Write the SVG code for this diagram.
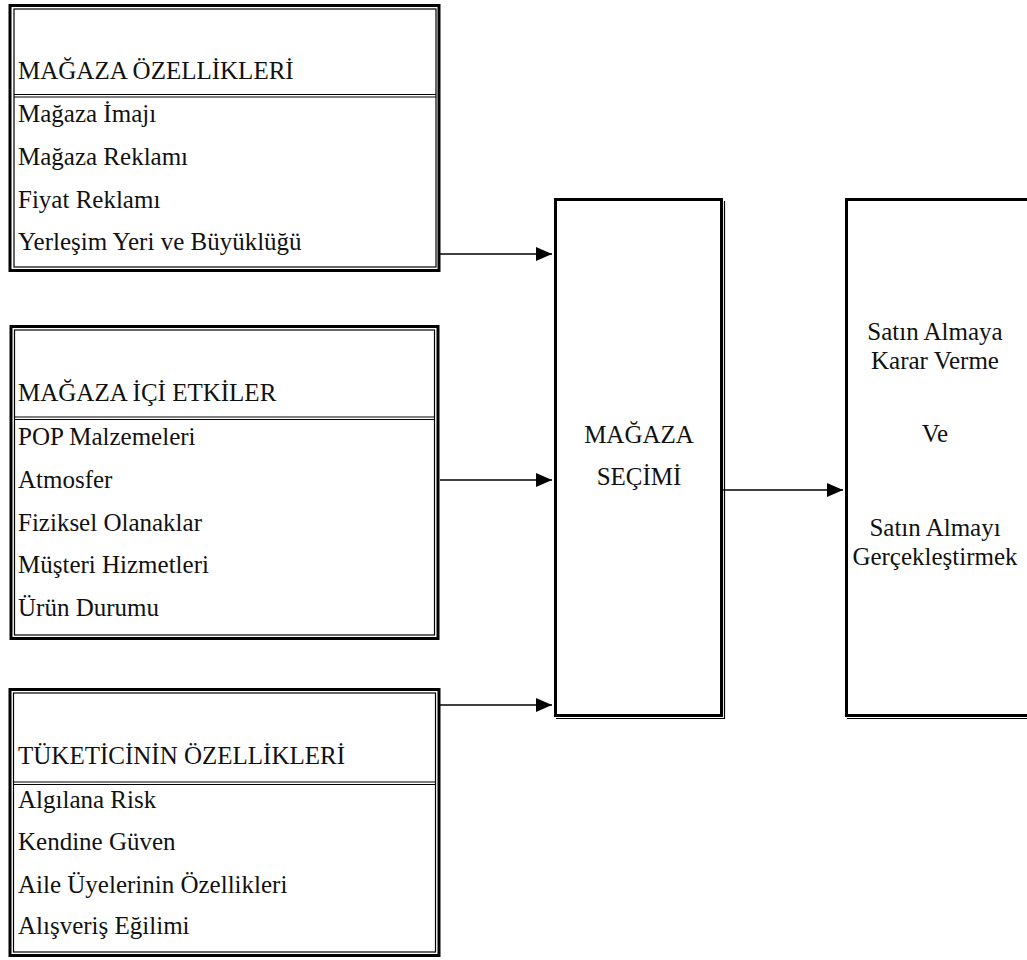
<svg xmlns="http://www.w3.org/2000/svg" width="1027" height="960" viewBox="0 0 1027 960">
<defs>
<style>
text{font-family:"Liberation Serif","Times New Roman",serif;font-size:25px;fill:#111;}
.mid{text-anchor:middle;}
.thick{fill:none;stroke:#000;stroke-width:3;}
.thin{fill:none;stroke:#000;stroke-width:1.2;}
.conn{fill:none;stroke:#000;stroke-width:1.5;}
</style>
<marker id="ah" viewBox="0 0 16 14" refX="16" refY="7" markerWidth="16" markerHeight="14" markerUnits="userSpaceOnUse" orient="auto">
<path d="M0,0 L16,7 L0,14 Z" fill="#000"/>
</marker>
</defs>
<rect width="1027" height="960" fill="#fff"/>

<g id="magaza-ozellikleri">
<rect class="thick" x="10" y="5.5" width="429" height="265"/>
<rect class="thin" x="14" y="9" width="422" height="258"/>
<line class="thin" x1="14" y1="94.5" x2="436" y2="94.5"/>
<line class="thin" x1="14" y1="97" x2="436" y2="97"/>
<text x="18" y="79">MAĞAZA ÖZELLİKLERİ</text>
<text x="18" y="122">Mağaza İmajı</text>
<text x="18" y="165">Mağaza Reklamı</text>
<text x="18" y="208">Fiyat Reklamı</text>
<text x="18" y="250">Yerleşim Yeri ve Büyüklüğü</text>
</g>

<g id="magaza-ici-etkiler">
<rect class="thick" x="11" y="326.5" width="427" height="312"/>
<rect class="thin" x="14.5" y="330" width="420" height="305"/>
<line class="thin" x1="14.5" y1="417" x2="434.5" y2="417"/>
<line class="thin" x1="14.5" y1="419.5" x2="434.5" y2="419.5"/>
<text x="18" y="401">MAĞAZA İÇİ ETKİLER</text>
<text x="18" y="445">POP Malzemeleri</text>
<text x="18" y="488">Atmosfer</text>
<text x="18" y="531">Fiziksel Olanaklar</text>
<text x="18" y="573">Müşteri Hizmetleri</text>
<text x="18" y="616">Ürün Durumu</text>
</g>

<g id="tuketicinin-ozellikleri">
<rect class="thick" x="10" y="689.5" width="429" height="266"/>
<rect class="thin" x="13.5" y="693" width="422" height="259"/>
<line class="thin" x1="13.5" y1="782" x2="435.5" y2="782"/>
<line class="thin" x1="13.5" y1="784.5" x2="435.5" y2="784.5"/>
<text x="18" y="764">TÜKETİCİNİN ÖZELLİKLERİ</text>
<text x="18" y="808">Algılana Risk</text>
<text x="18" y="850">Kendine Güven</text>
<text x="18" y="893">Aile Üyelerinin Özellikleri</text>
<text x="18" y="934">Alışveriş Eğilimi</text>
</g>

<g id="magaza-secimi">
<rect class="thick" x="555.5" y="199.5" width="166" height="516"/>
<polyline class="thin" points="556,718.5 724.5,718.5 724.5,201"/>
<text class="mid" x="639" y="443">MAĞAZA</text>
<text class="mid" x="639" y="485">SEÇİMİ</text>
</g>

<g id="satin-alma">
<polyline class="thick" points="1030,199.5 846.5,199.5 846.5,715.5 1030,715.5"/>
<line class="thin" x1="847" y1="718.5" x2="1030" y2="718.5"/>
<text class="mid" x="935" y="340">Satın Almaya</text>
<text class="mid" x="935" y="369">Karar Verme</text>
<text class="mid" x="935" y="442">Ve</text>
<text class="mid" x="935" y="536">Satın Almayı</text>
<text class="mid" x="935" y="565">Gerçekleştirmek</text>
</g>

<g id="connectors">
<line class="conn" x1="440" y1="254" x2="552" y2="254" marker-end="url(#ah)"/>
<line class="conn" x1="440" y1="480" x2="552" y2="480" marker-end="url(#ah)"/>
<line class="conn" x1="440" y1="705" x2="552" y2="705" marker-end="url(#ah)"/>
<line class="conn" x1="722" y1="490" x2="843" y2="490" marker-end="url(#ah)"/>
</g>
</svg>
